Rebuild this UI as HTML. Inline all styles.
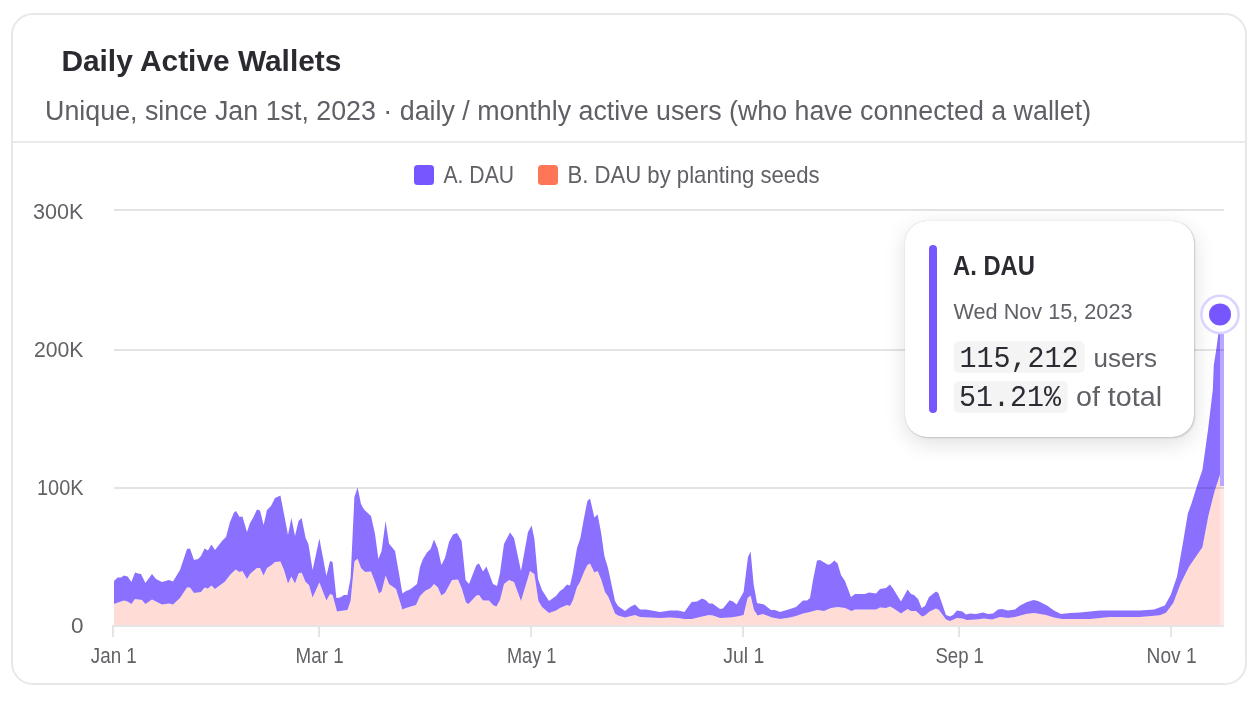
<!DOCTYPE html>
<html><head><meta charset="utf-8"><style>
html,body{margin:0;padding:0;background:#fff;width:1259px;height:701px;overflow:hidden;}
.card{position:absolute;left:11px;top:13px;width:1232px;height:668px;border:2px solid #e8e8e8;border-radius:22px;}
svg{position:absolute;left:0;top:0;will-change:transform;}
.tip{position:absolute;left:905px;top:221px;width:289px;height:216px;background:#fff;border-radius:22px;box-shadow:0 0 1px rgba(0,0,0,0.28),1px 1px 2px rgba(0,0,0,0.16),0 6px 22px rgba(0,0,0,0.13);}
</style></head><body>
<div class="card"></div>
<svg width="1259" height="701" viewBox="0 0 1259 701">
  <rect x="12" y="141.2" width="1234" height="1.6" fill="#e6e6e6"/>
  <text x="61.4" y="70.7" font-size="30" fill="#2a2a31" font-weight="bold" text-anchor="start" font-family='"Liberation Sans", sans-serif' textLength="280" lengthAdjust="spacingAndGlyphs">Daily Active Wallets</text>
  <text x="45.1" y="119.5" font-size="27" fill="#5f5f66" font-weight="normal" text-anchor="start" font-family='"Liberation Sans", sans-serif' textLength="1046" lengthAdjust="spacingAndGlyphs">Unique, since Jan 1st, 2023 · daily / monthly active users (who have connected a wallet)</text>
  <rect x="414" y="165" width="20" height="20" rx="3.5" fill="#7856ff"/>
  <text x="443.5" y="183" font-size="24" fill="#606066" font-weight="normal" text-anchor="start" font-family='"Liberation Sans", sans-serif' textLength="70.5" lengthAdjust="spacingAndGlyphs">A. DAU</text>
  <rect x="538" y="165" width="20" height="20" rx="3.5" fill="#ff7557"/>
  <text x="567.5" y="183" font-size="24" fill="#606066" font-weight="normal" text-anchor="start" font-family='"Liberation Sans", sans-serif' textLength="252" lengthAdjust="spacingAndGlyphs">B. DAU by planting seeds</text>
  <polygon points="114,604 118,602.4 124,600.6 127.6,601.4 131.4,604 135,599 142,600 145.4,604 152,599.6 162,604.6 169,603.4 173,604.4 180,598 187,587.4 190,587.4 194,593 201,592 204.6,587.4 208,588.6 211.4,585.6 215,589 225,581.6 230,575 235.6,569.4 239.6,572 242.4,571 247,579 250,574 257,568 260,568 263.6,575.6 267,568 271,565.6 275,562 280.4,561.4 284,570 288,583.6 291.4,576.4 295,583.6 298.6,573.6 301.6,572.4 305.6,582 309,585 312.6,597.6 319.4,582.4 326.4,600.4 330,594 332.6,595 337,611.6 340,611 347.4,610 350.6,601 354.4,561.6 357.6,558.6 361,568 365,572 371,571.4 375,582 379,593.6 381.6,591.6 385.6,575.6 389,584 396,589 402.4,609.6 406,608 416,605 420,596 425,591 430.6,588 434,584 437.6,587 441.4,595.6 445,593 452,580 458,579.4 461.6,588 466,602.4 468.4,604 476.4,595.6 479,595 483,600.4 489,600.4 493,605 496.4,606.4 500,600 504,584 509,580 514,582 521,601 530,571 534.4,574 538.4,601 542,607 549,613 556,610.4 560,608 567,605 570,606 573,600 577,587 580,582 584,572 587.4,565 590,563.6 594.4,572.4 597.6,571 601,579 605,592 608.4,597 615,613.6 618,615.6 625,617.6 635,615 640,617 660,618 670,617.6 678,618 684.4,619 692,619 700,617 709,615 713,615.6 720,618 730,617.4 737,616.4 743.6,615 747.6,598 750.6,595.6 754,610 757.6,615.6 763,614 772,617.6 780,619 790,617.6 796,616 803,613.6 810,612 817,610 824,611 831,608 838,607 845,608 851.6,611 855,609.6 868,609.4 876,609.4 880,607.6 886,608 890,606.4 893,608 901,613.6 907.6,609 911,611 916,611 922,616.4 925,615.6 929.6,611.4 936,608.4 939,610 946,619.6 950,621 957,618 962.4,618.4 967,620 976,619.6 984,618.6 992,619.6 1000,617 1008,618 1015,617 1026,614 1034,613 1046,615 1054,617.4 1062,619 1090,619 1110,617 1140,617 1160,615.2 1166,612.8 1173.3,603 1180.6,583.7 1189,566.7 1202.4,547.3 1208.4,515.8 1214.5,491.5 1220,474.5 1220,625 114,625" fill="#ffdcd6"/>
  <polygon points="114,581 117.6,577.6 121,577.4 124,575.4 127.6,576.6 131.4,582 135,572.6 138,573.6 141,574 145.4,583 152,574 156,579 162,582 169,580 173,581.6 180,570 187,549 190,548.6 194,560 198,559 201,556 204.6,548.6 208,550.4 211.4,544.4 215,550 222,541 226,537 230,522 234,512.4 236,511 239.6,517 242.4,516.4 247,532 250,523 253,518 257,509.4 260,510.4 263.6,525 267,510 271,506 275,498 280.4,495.4 284,514 288,535 291.4,518 295,536 298.6,521 301.6,518 305.6,538 308.4,544 312.6,570 319.4,538.6 326.4,576 330,561 332.6,562 336.4,598 340,597.6 344,595 347.4,595 350.6,578 354.4,497 357.6,487.6 361,504 364,509.6 371,516 375,534 378.4,559 381.6,551 385.6,521 389,543.6 395,551 398.4,570 402.4,593.6 406,591 410,589.4 417,584 420,567 423,559 427,552.4 430.6,549 434,539.6 437.6,548 441.4,565 445,558 449,542 453,534.4 457,533 461.6,541 465.6,580 469,584 476.4,565 479,563.6 483,571.6 486.4,566.4 493,584 497,586 500,573 504,544 510,532.4 514,538 521,571 528,532 531.6,525.6 534.4,539 538,579 542,590 549,601 556,596 560,591 563,589 567,584.4 570,585.6 573,572 577,548 580.4,538 584,518 587.4,501 590,498.6 594.4,517.4 597.6,514.4 601,532 604.4,556 608,568 615,601 618,606 625,611 630,607 635,604.6 640,609.6 646,609.6 660,612 670,610.4 678,610.6 684.4,612 691.6,602 697,601.4 702,598.4 705.6,600 709,603.6 712.4,603.4 720,609 723,608.4 729.6,600.2 733,601.6 736.6,604.4 743.6,592 748,557 750.6,551.6 753.6,584 757,603 764,604.4 771,610 775,610 780,612 790,609 796,607 803,600.6 807,600.4 810,598 813,580 817,560.4 820,560 827.6,564.4 830,564.4 834.4,560.4 837.6,563.6 841,575 845,581 851,597 855,594 865,594 869,592.6 876,593.4 880,589 886,588 890,584.4 893,588.4 901,601.6 907.6,589.6 911,594 914,595 918,599 921.6,608 925,606 929,597 936,591.6 938.4,593 946,615 950,616.4 953,615 957,610.6 962.4,611.4 966,614.4 970,613.6 976,614 983,612.4 988,614 993,613.4 998,609.4 1002,609 1008,610.6 1015,609.4 1020,605.6 1027,602 1033.6,600 1038,601 1047,605.6 1054,610.6 1061,614 1070,613 1080,612.4 1090,611.4 1100,610.6 1120,610.4 1140,610.6 1154,609.4 1164.8,605.5 1170.9,594.6 1177,576.4 1183,542.4 1187.9,513.3 1191.5,503.6 1197.5,484.2 1202.4,470 1208,430 1212.8,390 1213.8,365 1216.2,350 1218.2,335 1220,314 1220,474.5 1214.5,491.5 1208.4,515.8 1202.4,547.3 1189,566.7 1180.6,583.7 1173.3,603 1166,612.8 1160,615.2 1140,617 1110,617 1090,619 1062,619 1054,617.4 1046,615 1034,613 1026,614 1015,617 1008,618 1000,617 992,619.6 984,618.6 976,619.6 967,620 962.4,618.4 957,618 950,621 946,619.6 939,610 936,608.4 929.6,611.4 925,615.6 922,616.4 916,611 911,611 907.6,609 901,613.6 893,608 890,606.4 886,608 880,607.6 876,609.4 868,609.4 855,609.6 851.6,611 845,608 838,607 831,608 824,611 817,610 810,612 803,613.6 796,616 790,617.6 780,619 772,617.6 763,614 757.6,615.6 754,610 750.6,595.6 747.6,598 743.6,615 737,616.4 730,617.4 720,618 713,615.6 709,615 700,617 692,619 684.4,619 678,618 670,617.6 660,618 640,617 635,615 625,617.6 618,615.6 615,613.6 608.4,597 605,592 601,579 597.6,571 594.4,572.4 590,563.6 587.4,565 584,572 580,582 577,587 573,600 570,606 567,605 560,608 556,610.4 549,613 542,607 538.4,601 534.4,574 530,571 521,601 514,582 509,580 504,584 500,600 496.4,606.4 493,605 489,600.4 483,600.4 479,595 476.4,595.6 468.4,604 466,602.4 461.6,588 458,579.4 452,580 445,593 441.4,595.6 437.6,587 434,584 430.6,588 425,591 420,596 416,605 406,608 402.4,609.6 396,589 389,584 385.6,575.6 381.6,591.6 379,593.6 375,582 371,571.4 365,572 361,568 357.6,558.6 354.4,561.6 350.6,601 347.4,610 340,611 337,611.6 332.6,595 330,594 326.4,600.4 319.4,582.4 312.6,597.6 309,585 305.6,582 301.6,572.4 298.6,573.6 295,583.6 291.4,576.4 288,583.6 284,570 280.4,561.4 275,562 271,565.6 267,568 263.6,575.6 260,568 257,568 250,574 247,579 242.4,571 239.6,572 235.6,569.4 230,575 225,581.6 215,589 211.4,585.6 208,588.6 204.6,587.4 201,592 194,593 190,587.4 187,587.4 180,598 173,604.4 169,603.4 162,604.6 152,599.6 145.4,604 142,600 135,599 131.4,604 127.6,601.4 124,600.6 118,602.4 114,604" fill="#8b70ff"/>
  <rect x="1220" y="318" width="4" height="168" fill="#b9a8ff"/>
  <rect x="1220" y="486" width="4" height="139" fill="#ffe7e3"/>
  <g fill="#000" fill-opacity="0.105">
    <rect x="114" y="209" width="1110" height="2"/>
    <rect x="114" y="349" width="1110" height="2"/>
    <rect x="114" y="487" width="1110" height="2"/>
  </g>
  <g fill="#e5e5e5">
    <rect x="112" y="625" width="1112" height="2"/>
    <rect x="112" y="625" width="2" height="12"/>
    <rect x="318" y="625" width="2" height="12"/>
    <rect x="530" y="625" width="2" height="12"/>
    <rect x="742" y="625" width="2" height="12"/>
    <rect x="958" y="625" width="2" height="12"/>
    <rect x="1170" y="625" width="2" height="12"/>
  </g>
  <text x="83.5" y="218.8" font-size="22.5" fill="#626266" font-weight="normal" text-anchor="end" font-family='"Liberation Sans", sans-serif' textLength="50.5" lengthAdjust="spacingAndGlyphs">300K</text>
  <text x="83.5" y="356.7" font-size="22.5" fill="#626266" font-weight="normal" text-anchor="end" font-family='"Liberation Sans", sans-serif' textLength="49.5" lengthAdjust="spacingAndGlyphs">200K</text>
  <text x="83.5" y="494.7" font-size="22.5" fill="#626266" font-weight="normal" text-anchor="end" font-family='"Liberation Sans", sans-serif' textLength="46.5" lengthAdjust="spacingAndGlyphs">100K</text>
  <text x="83.5" y="632.9" font-size="22.5" fill="#626266" font-weight="normal" text-anchor="end" font-family='"Liberation Sans", sans-serif'>0</text>
  <text x="113.8" y="663.3" font-size="21.5" fill="#626266" font-weight="normal" text-anchor="middle" font-family='"Liberation Sans", sans-serif' textLength="46" lengthAdjust="spacingAndGlyphs">Jan 1</text>
  <text x="319.6" y="663.3" font-size="21.5" fill="#626266" font-weight="normal" text-anchor="middle" font-family='"Liberation Sans", sans-serif' textLength="48" lengthAdjust="spacingAndGlyphs">Mar 1</text>
  <text x="531.7" y="663.3" font-size="21.5" fill="#626266" font-weight="normal" text-anchor="middle" font-family='"Liberation Sans", sans-serif' textLength="49.5" lengthAdjust="spacingAndGlyphs">May 1</text>
  <text x="743.8" y="663.3" font-size="21.5" fill="#626266" font-weight="normal" text-anchor="middle" font-family='"Liberation Sans", sans-serif' textLength="41" lengthAdjust="spacingAndGlyphs">Jul 1</text>
  <text x="959.7" y="663.3" font-size="21.5" fill="#626266" font-weight="normal" text-anchor="middle" font-family='"Liberation Sans", sans-serif' textLength="48.5" lengthAdjust="spacingAndGlyphs">Sep 1</text>
  <text x="1171.6" y="663.3" font-size="21.5" fill="#626266" font-weight="normal" text-anchor="middle" font-family='"Liberation Sans", sans-serif' textLength="50" lengthAdjust="spacingAndGlyphs">Nov 1</text>
</svg>
<div class="tip"></div>
<svg width="1259" height="701" viewBox="0 0 1259 701">
  <rect x="929" y="245" width="8" height="168" rx="4" fill="#7856ff"/>
  <text x="953" y="274.8" font-size="27.5" fill="#2a2a31" font-weight="bold" text-anchor="start" font-family='"Liberation Sans", sans-serif' textLength="82" lengthAdjust="spacingAndGlyphs">A. DAU</text>
  <text x="953.5" y="318.5" font-size="22.5" fill="#606066" font-weight="normal" text-anchor="start" font-family='"Liberation Sans", sans-serif' textLength="179" lengthAdjust="spacingAndGlyphs">Wed Nov 15, 2023</text>
  <rect x="953.7" y="341.3" width="131" height="31.4" rx="5" fill="#f4f4f4"/>
  <text x="959.5" y="367" font-size="30" fill="#2b2b33" font-weight="normal" text-anchor="start" font-family='"Liberation Mono", monospace' textLength="119" lengthAdjust="spacingAndGlyphs">115,212</text>
  <text x="1093.5" y="367" font-size="26" fill="#606066" font-weight="normal" text-anchor="start" font-family='"Liberation Sans", sans-serif' textLength="63.5" lengthAdjust="spacingAndGlyphs">users</text>
  <rect x="953.7" y="381.3" width="114" height="31.4" rx="5" fill="#f4f4f4"/>
  <text x="959" y="406" font-size="30" fill="#2b2b33" font-weight="normal" text-anchor="start" font-family='"Liberation Mono", monospace' textLength="102" lengthAdjust="spacingAndGlyphs">51.21%</text>
  <text x="1076" y="406" font-size="27.5" fill="#606066" font-weight="normal" text-anchor="start" font-family='"Liberation Sans", sans-serif' textLength="86" lengthAdjust="spacingAndGlyphs">of total</text>
  <circle cx="1220" cy="314.4" r="18.6" fill="#fff" stroke="#dcd4ff" stroke-width="2.6"/>
  <circle cx="1220" cy="314.4" r="11" fill="#7856ff"/>
</svg>
</body></html>
